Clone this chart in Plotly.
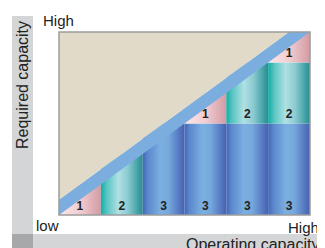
import plotly.graph_objects as go

# ---- data ----
columns = [1, 2, 3, 4, 5, 6]            # operating-capacity steps
level3_blue = [0, 0, 3, 3, 3, 3]        # segments labelled "3"
level2_teal = [0, 2, 0, 0, 2, 2]        # segments labelled "2"
level1_pink = [1, 0, 0, 1, 0, 1]        # segments labelled "1"
level_names = ["3", "2", "1"]
axis_max = 6
x_labels = ["low", "High"]
y_labels = ["High"]

# ---- styles ----
FONT = "Arial, Liberation Sans, sans-serif"
scales = {
    "3": [[0, "#4366B6"], [0.12, "#5B87CC"], [0.42, "#7BAFE1"], [0.62, "#76A8DC"],
          [0.88, "#5477C1"], [1, "#4661AC"]],
    "2": [[0, "#12ADA6"], [0.15, "#5BC6C3"], [0.42, "#B0E0E4"], [0.65, "#8ACAD0"],
          [0.9, "#3E9FA3"], [1, "#2C8B90"]],
    "1": [[0, "#FCE7E9"], [0.5, "#F1CDD2"], [1, "#D39BA4"]],
}
band_width = 0.5
beige = "#E1DAC9"
band_col = "#7BAEDE"
grey_light = "#D4D5D7"
grey_dark = "#A7A8AA"

fig = go.Figure()

series = {"3": level3_blue, "2": level2_teal, "1": level1_pink}
label_x, label_y, label_t = [], [], []
for i, c in enumerate(columns):
    x0, x1 = c - 1, c
    base = 0
    for name in level_names:
        v = series[name][i]
        if v <= 0:
            continue
        y0, y1 = base, base + v
        fig.add_trace(go.Scatter(
            x=[x0, x1, x1, x0, x0], y=[y0, y0, y1, y1, y0],
            mode="lines", line=dict(width=0), fill="toself",
            fillgradient=dict(type="horizontal", colorscale=scales[name],
                              start=x0, stop=x1),
            hoverinfo="skip", showlegend=False))
        label_x.append((x0 + x1) / 2)
        label_y.append(y0 + 0.27)
        label_t.append("<b>%s</b>" % name)
        base = y1

# diagonal band
fig.add_trace(go.Scatter(
    x=[0, 0, axis_max - band_width, axis_max, 0],
    y=[0, band_width, axis_max, axis_max, 0],
    mode="lines", line=dict(width=0), fill="toself", fillcolor=band_col,
    hoverinfo="skip", showlegend=False))
# beige upper triangle
fig.add_trace(go.Scatter(
    x=[0, 0, axis_max - band_width, 0],
    y=[band_width, axis_max, axis_max, band_width],
    mode="lines", line=dict(width=0), fill="toself", fillcolor=beige,
    hoverinfo="skip", showlegend=False))

# segment labels
fig.add_trace(go.Scatter(
    x=label_x, y=label_y, text=label_t, mode="text",
    textfont=dict(family=FONT, size=12, color="#222222"),
    hoverinfo="skip", showlegend=False))

# page has an 8px body margin: figure origin is at (8, 8) in the screenshot
OFF = 8
W, H = 325 - OFF, 248 - OFF
PL, PR, PT, PB = 59, 310, 32, 215          # plot area in screenshot pixels
L, T = PL - OFF, PT - OFF
R, B = W - (PR - OFF), H - (PB - OFF)
pw, ph = PR - PL, PB - PT


def px(xp):
    return (xp - PL) / pw


def py(yp):
    return (PB - yp) / ph


shapes = [
    dict(type="rect", xref="paper", yref="paper", x0=px(12), x1=px(33),
         y0=py(16), y1=py(234), fillcolor=grey_light, line=dict(width=0), layer="below"),
    dict(type="rect", xref="paper", yref="paper", x0=px(33), x1=px(330),
         y0=py(234), y1=py(252), fillcolor=grey_light, line=dict(width=0), layer="below"),
    dict(type="rect", xref="paper", yref="paper", x0=px(12), x1=px(33),
         y0=py(234), y1=py(252), fillcolor=grey_dark, line=dict(width=0), layer="below"),
    dict(type="rect", xref="paper", yref="paper", x0=0, x1=1, y0=0, y1=1,
         line=dict(color="#9C9C9C", width=1.5), fillcolor="rgba(0,0,0,0)"),
]

tf = dict(family=FONT, size=15, color="#222222")
tf2 = dict(family=FONT, size=16, color="#222222")
annotations = [
    dict(text=y_labels[0], xref="paper", yref="paper", x=px(41), y=py(21),
         xanchor="left", yanchor="middle", showarrow=False, font=tf),
    dict(text=x_labels[0], xref="paper", yref="paper", x=px(34), y=py(225),
         xanchor="left", yanchor="middle", showarrow=False, font=tf),
    dict(text=x_labels[1], xref="paper", yref="paper", x=px(321), y=py(227),
         xanchor="right", yanchor="middle", showarrow=False, font=tf),
    dict(text="Operating capacity", xref="paper", yref="paper", x=px(321), y=py(244),
         xanchor="right", yanchor="middle", showarrow=False, font=tf2),
    dict(text="Required capacity", xref="paper", yref="paper", x=px(22), y=py(85),
         xanchor="center", yanchor="middle", textangle=-90, showarrow=False, font=tf2),
]

fig.update_layout(
    width=W, height=H, margin=dict(l=L, r=R, t=T, b=B),
    paper_bgcolor="white", plot_bgcolor="white",
    xaxis=dict(range=[0, axis_max], showgrid=False, zeroline=False,
               showticklabels=False, ticks="", fixedrange=True),
    yaxis=dict(range=[0, axis_max], showgrid=False, zeroline=False,
               showticklabels=False, ticks="", fixedrange=True),
    shapes=shapes, annotations=annotations, showlegend=False,
)

fig.write_html("out.html", config={"displayModeBar": False})
